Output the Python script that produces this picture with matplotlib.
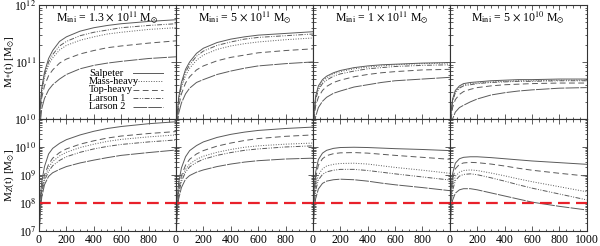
"""Stellar and metal mass evolution for five IMFs, four initial masses."""

import matplotlib
matplotlib.use("Agg")
import matplotlib.pyplot as plt
import numpy as np
from matplotlib.ticker import LogLocator, MultipleLocator, NullFormatter

plt.rcParams["font.family"] = ["Liberation Serif", "DejaVu Serif"]
plt.rcParams["mathtext.fontset"] = "stix"

# time grid (Myr)
TIME = [2, 8, 20, 40, 70, 100, 150, 200, 300, 400, 500, 600, 800, 1000]

IMF_NAMES = ["Salpeter", "Mass-heavy", "Top-heavy", "Larson 1", "Larson 2"]
MASS_TITLES = [
    r"M$_{\rm ini}$ = 1.3 $\times$ 10$^{11}$ M$_{\odot}$",
    r"M$_{\rm ini}$ = 5 $\times$ 10$^{11}$ M$_{\odot}$",
    r"M$_{\rm ini}$ = 1 $\times$ 10$^{11}$ M$_{\odot}$",
    r"M$_{\rm ini}$ = 5 $\times$ 10$^{10}$ M$_{\odot}$",
]

# log10 stellar mass, per panel, order: Salpeter, Mass-heavy, Top-heavy, Larson 1, Larson 2
LOG_MSTAR_P1 = [
    [9.6, 10.19, 10.54, 10.82, 11.06, 11.2, 11.36, 11.44, 11.54, 11.6, 11.64, 11.67, 11.71, 11.74],
    [9.6, 10.15, 10.47, 10.73, 10.95, 11.07, 11.21, 11.29, 11.38, 11.44, 11.49, 11.52, 11.57, 11.6],
    [9.55, 10.08, 10.37, 10.58, 10.76, 10.86, 10.98, 11.05, 11.14, 11.2, 11.25, 11.28, 11.33, 11.37],
    [9.6, 10.17, 10.5, 10.77, 11.0, 11.13, 11.28, 11.36, 11.46, 11.52, 11.56, 11.6, 11.64, 11.67],
    [9.4, 9.9, 10.18, 10.36, 10.51, 10.6, 10.7, 10.78, 10.88, 10.94, 10.98, 11.01, 11.06, 11.09],
]
LOG_MSTAR_P2 = [
    [9.5, 10.05, 10.38, 10.64, 10.87, 11.0, 11.15, 11.24, 11.34, 11.4, 11.44, 11.47, 11.5, 11.53],
    [9.5, 10.0, 10.31, 10.55, 10.76, 10.89, 11.03, 11.12, 11.22, 11.28, 11.32, 11.35, 11.39, 11.42],
    [9.45, 9.94, 10.22, 10.44, 10.63, 10.74, 10.86, 10.93, 11.02, 11.08, 11.12, 11.16, 11.2, 11.23],
    [9.5, 10.03, 10.35, 10.6, 10.82, 10.95, 11.1, 11.19, 11.29, 11.35, 11.4, 11.43, 11.46, 11.49],
    [9.3, 9.82, 10.1, 10.28, 10.44, 10.54, 10.64, 10.69, 10.78, 10.84, 10.89, 10.93, 10.97, 11.0],
]
LOG_MSTAR_P3 = [
    [9.6, 10.1, 10.4, 10.58, 10.69, 10.75, 10.81, 10.85, 10.9, 10.93, 10.95, 10.96, 10.98, 10.99],
    [9.6, 10.08, 10.37, 10.55, 10.66, 10.72, 10.79, 10.83, 10.88, 10.91, 10.93, 10.95, 10.97, 10.98],
    [9.5, 9.98, 10.23, 10.38, 10.5, 10.57, 10.64, 10.68, 10.74, 10.78, 10.81, 10.83, 10.86, 10.87],
    [9.6, 10.06, 10.34, 10.51, 10.62, 10.68, 10.75, 10.79, 10.84, 10.88, 10.9, 10.92, 10.94, 10.95],
    [9.3, 9.8, 10.04, 10.2, 10.31, 10.38, 10.45, 10.49, 10.56, 10.6, 10.64, 10.67, 10.7, 10.73],
]
LOG_MSTAR_P4 = [
    [9.6, 10.1, 10.35, 10.5, 10.58, 10.62, 10.64, 10.65, 10.67, 10.68, 10.69, 10.69, 10.7, 10.7],
    [9.6, 10.08, 10.33, 10.48, 10.56, 10.6, 10.62, 10.63, 10.65, 10.66, 10.67, 10.67, 10.68, 10.68],
    [9.5, 9.97, 10.2, 10.34, 10.43, 10.48, 10.52, 10.55, 10.58, 10.6, 10.61, 10.62, 10.63, 10.63],
    [9.6, 10.06, 10.31, 10.46, 10.54, 10.58, 10.6, 10.62, 10.64, 10.65, 10.66, 10.66, 10.67, 10.67],
    [9.3, 9.8, 10.0, 10.12, 10.2, 10.24, 10.3, 10.35, 10.42, 10.46, 10.49, 10.51, 10.54, 10.55],
]

# log10 metal mass, same layout
LOG_MZ_P1 = [
    [7.0, 8.1, 8.75, 9.3, 9.75, 9.95, 10.13, 10.26, 10.43, 10.56, 10.66, 10.73, 10.83, 10.9],
    [6.9, 7.85, 8.42, 8.9, 9.27, 9.48, 9.68, 9.81, 9.98, 10.1, 10.2, 10.27, 10.36, 10.43],
    [6.9, 7.9, 8.5, 9.0, 9.38, 9.6, 9.8, 9.93, 10.1, 10.22, 10.32, 10.39, 10.48, 10.55],
    [6.9, 7.8, 8.35, 8.8, 9.13, 9.33, 9.52, 9.65, 9.81, 9.93, 10.02, 10.09, 10.18, 10.25],
    [6.8, 7.6, 8.2, 8.65, 8.95, 9.08, 9.2, 9.3, 9.43, 9.53, 9.62, 9.7, 9.8, 9.89],
]
LOG_MZ_P2 = [
    [7.0, 8.1, 8.73, 9.25, 9.65, 9.87, 10.05, 10.18, 10.34, 10.45, 10.53, 10.59, 10.66, 10.71],
    [6.9, 7.85, 8.4, 8.85, 9.2, 9.39, 9.56, 9.67, 9.81, 9.91, 9.99, 10.04, 10.1, 10.14],
    [6.9, 7.9, 8.5, 8.97, 9.35, 9.56, 9.75, 9.87, 10.03, 10.14, 10.23, 10.3, 10.38, 10.43],
    [6.9, 7.8, 8.33, 8.77, 9.1, 9.29, 9.45, 9.56, 9.7, 9.8, 9.88, 9.93, 10.0, 10.04],
    [6.8, 7.6, 8.15, 8.55, 8.85, 8.98, 9.1, 9.18, 9.3, 9.39, 9.46, 9.51, 9.57, 9.6],
]
LOG_MZ_P3 = [
    [7.0, 8.4, 9.1, 9.55, 9.78, 9.88, 9.95, 9.98, 9.99, 9.98, 9.96, 9.94, 9.91, 9.87],
    [6.9, 8.0, 8.6, 9.0, 9.22, 9.32, 9.38, 9.41, 9.42, 9.39, 9.33, 9.27, 9.17, 9.06],
    [6.9, 8.2, 8.9, 9.35, 9.58, 9.69, 9.76, 9.79, 9.8, 9.78, 9.74, 9.7, 9.63, 9.56],
    [6.9, 7.9, 8.45, 8.82, 9.02, 9.11, 9.17, 9.2, 9.2, 9.16, 9.1, 9.04, 8.93, 8.82],
    [6.8, 7.7, 8.15, 8.5, 8.7, 8.78, 8.83, 8.85, 8.83, 8.78, 8.71, 8.65, 8.55, 8.44],
]
LOG_MZ_P4 = [
    [7.0, 8.4, 9.05, 9.42, 9.58, 9.63, 9.65, 9.65, 9.62, 9.58, 9.54, 9.5, 9.44, 9.38],
    [6.9, 8.0, 8.6, 8.95, 9.1, 9.16, 9.18, 9.16, 9.07, 8.97, 8.86, 8.76, 8.58, 8.4],
    [6.9, 8.2, 8.85, 9.22, 9.38, 9.43, 9.45, 9.44, 9.39, 9.32, 9.24, 9.17, 9.06, 8.96],
    [6.9, 7.9, 8.45, 8.8, 8.96, 9.02, 9.04, 9.01, 8.9, 8.78, 8.65, 8.53, 8.32, 8.11],
    [6.8, 7.7, 8.1, 8.35, 8.47, 8.51, 8.51, 8.47, 8.36, 8.25, 8.14, 8.03, 7.88, 7.75],
]

METAL_THRESHOLD = 1e8

LOG_MSTAR = [LOG_MSTAR_P1, LOG_MSTAR_P2, LOG_MSTAR_P3, LOG_MSTAR_P4]
LOG_MZ = [LOG_MZ_P1, LOG_MZ_P2, LOG_MZ_P3, LOG_MZ_P4]

LINE_COLOR = "#5a5a5a"
STYLES = {
    "Salpeter": dict(linestyle="-"),
    "Mass-heavy": dict(linestyle=(0, (1, 1.6))),
    "Top-heavy": dict(linestyle=(0, (6, 3.5))),
    "Larson 1": dict(linestyle=(0, (5, 1.5, 1, 1.5, 1, 1.5))),
    "Larson 2": dict(linestyle=(0, (14, 1.2))),
}


def style_axis(ax):
    ax.set_yscale("log")
    ax.set_xlim(0, 1000)
    ax.xaxis.set_major_locator(MultipleLocator(200))
    ax.xaxis.set_minor_locator(MultipleLocator(50))
    ax.yaxis.set_minor_locator(LogLocator(base=10, subs=np.arange(2, 10), numticks=20))
    ax.yaxis.set_minor_formatter(NullFormatter())
    ax.tick_params(which="both", direction="in", top=True, right=True, labelsize=8.5,
                   color="#444444", width=0.6, pad=2)
    ax.tick_params(which="major", length=3.5)
    ax.tick_params(which="minor", length=1.8)
    for spine in ax.spines.values():
        spine.set_linewidth(0.8)
        spine.set_color("#333333")


fig = plt.figure(figsize=(6.0, 2.46), dpi=100)
grid = fig.add_gridspec(2, 4, left=0.065, right=0.978, top=0.98, bottom=0.061,
                        wspace=0, hspace=0, height_ratios=[114, 112])

for col in range(4):
    ax_top = fig.add_subplot(grid[0, col])
    ax_bot = fig.add_subplot(grid[1, col])
    for name, logs in zip(IMF_NAMES, LOG_MSTAR[col]):
        ax_top.plot(TIME, 10 ** np.array(logs), color=LINE_COLOR, lw=0.7, **STYLES[name])
    for name, logs in zip(IMF_NAMES, LOG_MZ[col]):
        ax_bot.plot(TIME, 10 ** np.array(logs), color=LINE_COLOR, lw=0.7, **STYLES[name])
    ax_bot.axhline(METAL_THRESHOLD, color="#e8212b", lw=1.6, dashes=(5.3, 2.8))

    for ax in (ax_top, ax_bot):
        style_axis(ax)
    ax_top.set_ylim(1e10, 1e12)
    ax_bot.set_ylim(1e7, 1e11)

    ax_top.set_xticklabels([])
    ticks = [0, 200, 400, 600, 800, 1000]
    ax_bot.set_xticks(ticks)
    if col < 3:
        ax_bot.set_xticklabels([str(t) for t in ticks[:-1]] + [""])
    else:
        ax_bot.set_xticklabels([str(t) for t in ticks])

    ax_bot.set_yticks([1e7, 1e8, 1e9, 1e10, 1e11])
    ax_top.set_yticks([1e10, 1e11, 1e12])
    if col == 0:
        ax_top.set_yticklabels([r"10$^{10}$", r"10$^{11}$", r"10$^{12}$"])
        ax_bot.set_yticklabels([r"10$^{7}$", r"10$^{8}$", r"10$^{9}$", r"10$^{10}$", ""])
        ax_top.set_ylabel(r"M$_{*}$(t) [M$_{\odot}$]", fontsize=8)
        ax_bot.set_ylabel(r"M$_{Z}$(t) [M$_{\odot}$]", fontsize=8)
        ax_top.yaxis.set_label_coords(-0.165, 0.5)
        ax_bot.yaxis.set_label_coords(-0.165, 0.5)

        # legend in the IDL manner: label first, then line sample
        rows_y = [0.40, 0.33, 0.255, 0.18, 0.105]
        for name, yy in zip(IMF_NAMES, rows_y):
            ax_top.text(0.365, yy, name, transform=ax_top.transAxes, fontsize=7.5,
                        va="center", ha="left")
            ax_top.plot([0.69, 0.905], [yy, yy], transform=ax_top.transAxes,
                        color=LINE_COLOR, lw=0.7, **STYLES[name])
    else:
        ax_top.set_yticklabels([])
        ax_bot.set_yticklabels([])

    ax_top.text(0.5, 0.885, MASS_TITLES[col], transform=ax_top.transAxes,
                ha="center", va="center", fontsize=8.5)

fig.savefig("out.png", dpi=100)
